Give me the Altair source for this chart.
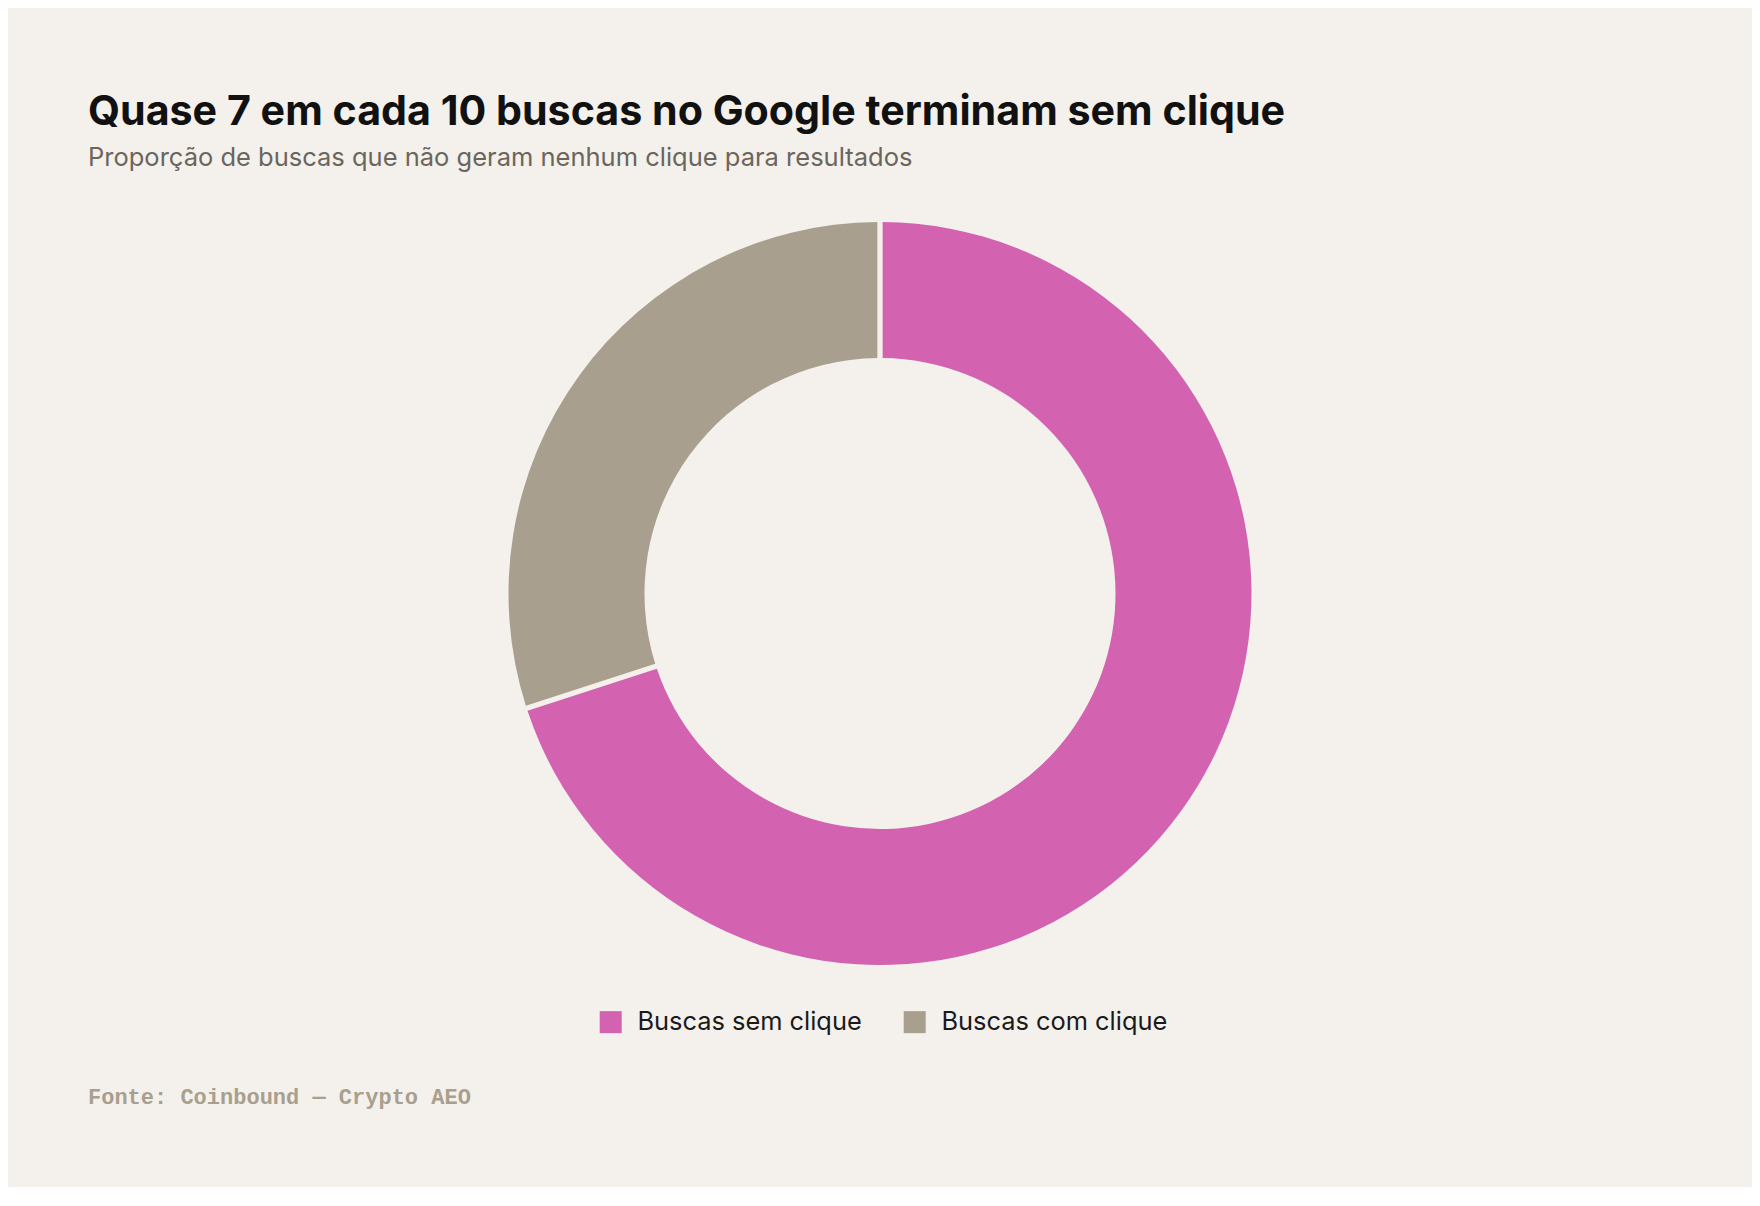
import pandas as pd
import altair as alt

categories = ["Buscas sem clique", "Buscas com clique"]
shares = [70, 30]
colors = ["#d362b1", "#a89f8f"]

source_note = ["Fonte: Coinbound — Crypto AEO"]

BG = "#f4f1ec"


def share_df():
    return pd.DataFrame({
        "categoria": categories,
        "share": shares,
        "ordem": list(range(len(categories))),
    })


def donut_chart(df):
    arcs = alt.Chart(df).mark_arc(
        innerRadius=235.5, outerRadius=371.5, padAngle=0.012
    ).encode(
        theta=alt.Theta("share:Q", stack=True),
        order=alt.Order("ordem:Q"),
        color=alt.Color(
            "categoria:N",
            scale=alt.Scale(domain=categories, range=colors),
            legend=alt.Legend(
                title=None,
                orient="none",
                direction="horizontal",
                legendX=510,
                legendY=809,
                symbolType="square",
                symbolSize=484,
                symbolStrokeWidth=0,
                labelFont="Inter",
                labelFontSize=25.4,
                labelColor="#1a1a1a",
                labelLimit=400,
                labelOffset=14,
                columnPadding=40,
                padding=0,
            ),
        ),
        tooltip=["categoria", "share"],
    )

    footer = alt.Chart(pd.DataFrame({"txt": source_note})).mark_text(
        align="left", baseline="alphabetic",
        font="Courier New, Liberation Mono, monospace",
        fontSize=22, fontWeight="bold", color="#a89f8f",
    ).encode(
        x=alt.value(0),
        y=alt.value(904),
        text="txt:N",
    )

    chart = alt.layer(arcs, footer).properties(
        width=1584,
        height=787,
        padding={"left": 80, "top": 192, "right": 80, "bottom": 200},
        autosize=alt.AutoSizeParams(type="none"),
        background=BG,
        title=alt.Title(
            "Quase 7 em cada 10 buscas no Google terminam sem clique",
            subtitle="Proporção de buscas que não geram nenhum clique para resultados",
            anchor="start",
            font="Inter",
            fontSize=41.2,
            fontWeight="bold",
            color="#111111",
            subtitleFont="Inter",
            subtitleFontSize=25.5,
            subtitleColor="#6b655c",
            subtitlePadding=12,
            offset=29,
        ),
    ).configure_view(stroke=None)
    return chart


chart = donut_chart(share_df())
chart.save("out.html", embed_options={"renderer": "svg", "actions": False})
